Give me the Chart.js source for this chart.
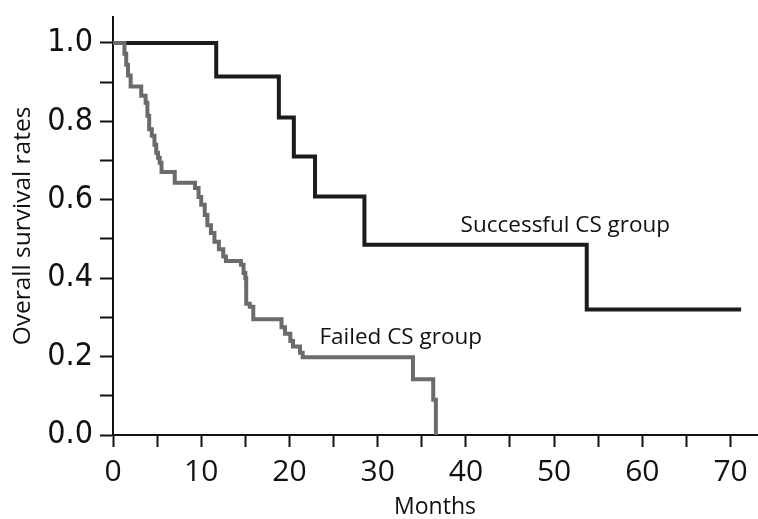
<!DOCTYPE html>
<html>
<head>
<meta charset="utf-8">
<script src="https://cdn.jsdelivr.net/npm/chart.js@4/dist/chart.umd.min.js"></script>
<style>
  html, body { margin: 0; padding: 0; background: #ffffff; }
  #wrap { width: 758px; height: 519px; position: relative; }
</style>
</head>
<body>
<div id="wrap"><canvas id="c" width="758" height="519"></canvas></div>
<script>
// ---- Data (Kaplan–Meier step curves) ----
const seriesNames = ['Successful CS group', 'Failed CS group'];

const successMonths = [0, 11.7, 18.8, 20.5, 22.9, 28.5, 53.7, 71.2];
const successRates  = [1.0, 0.914, 0.81, 0.71, 0.608, 0.485, 0.32, 0.32];

const failedMonths = [0, 1.3, 1.5, 1.7, 2.0, 3.2, 3.7, 3.9, 4.1, 4.4,
                      4.7, 4.9, 5.1, 5.3, 5.5, 7.0, 9.3, 9.7, 10.0, 10.4,
                      10.7, 11.1, 11.5, 12.0, 12.5, 12.8, 14.5, 14.8, 15.0, 15.1,
                      15.5, 15.9, 19.1, 19.5, 20.1, 20.4, 21.2, 21.5, 34.0, 36.3,
                      36.6];
const failedRates  = [1.0, 0.972, 0.944, 0.917, 0.889, 0.865, 0.847, 0.814, 0.78, 0.763,
                      0.74, 0.72, 0.707, 0.694, 0.671, 0.643, 0.63, 0.607, 0.587, 0.561,
                      0.535, 0.515, 0.493, 0.474, 0.455, 0.444, 0.434, 0.413, 0.40, 0.335,
                      0.327, 0.295, 0.275, 0.258, 0.24, 0.226, 0.21, 0.198, 0.142, 0.09,
                      0.0];

const xTickValues = [0, 5, 10, 15, 20, 25, 30, 35, 40, 45, 50, 55, 60, 65, 70];
const xTickLabels = ['0', '', '10', '', '20', '', '30', '', '40', '', '50', '', '60', '', '70'];
const yTickValues = [0, 0.1, 0.2, 0.3, 0.4, 0.5, 0.6, 0.7, 0.8, 0.9, 1.0];
const yTickLabels = ['0.0', '', '0.2', '', '0.4', '', '0.6', '', '0.8', '', '1.0'];

const xTitle = 'Months';
const yTitle = 'Overall survival rates';

// ---- build library structures ----
function toPoints(xs, ys) { return xs.map((x, i) => ({ x: x, y: ys[i] })); }

const textLabelsPlugin = {
  id: 'textLabels',
  afterDatasetsDraw(chart, args, opts) {
    const { ctx, scales } = chart;
    ctx.save();
    ctx.fillStyle = opts.color;
    ctx.font = opts.font;
    ctx.textAlign = 'left';
    ctx.textBaseline = 'middle';
    (opts.items || []).forEach(it => {
      ctx.fillText(it.text, scales.x.getPixelForValue(it.x), scales.y.getPixelForValue(it.y));
    });
    ctx.restore();
  }
};

const xFont = { family: "'Open Sans', sans-serif", size: 30 };
const yFont = { family: "'DejaVu Sans Condensed', 'Liberation Sans', sans-serif", size: 32 };

new Chart(document.getElementById('c'), {
  type: 'line',
  data: {
    datasets: [
      {
        label: seriesNames[1],
        data: toPoints(failedMonths, failedRates),
        borderColor: '#6b6b6b',
        borderWidth: 4,
        stepped: 'before',
        pointRadius: 0,
        fill: false,
        order: 0
      },
      {
        label: seriesNames[0],
        data: toPoints(successMonths, successRates),
        borderColor: '#1c1c1c',
        borderWidth: 4,
        stepped: 'before',
        pointRadius: 0,
        fill: false,
        order: 1
      }
    ]
  },
  options: {
    responsive: false,
    animation: false,
    layout: { padding: { top: 17, right: 1, left: 0, bottom: 0 } },
    plugins: {
      legend: { display: false },
      tooltip: { enabled: false },
      textLabels: {
        color: '#111111',
        font: "22.5px 'Open Sans', sans-serif",
        items: [
          { text: seriesNames[0], x: 39.4, y: 0.535 },
          { text: seriesNames[1], x: 23.4, y: 0.248 }
        ]
      }
    },
    scales: {
      x: {
        type: 'linear',
        min: 0,
        max: 73,
        afterFit(scale) { scale.height = 84; scale.paddingLeft = 0; scale.paddingRight = 0; },
        afterBuildTicks(scale) { scale.ticks = xTickValues.map(v => ({ value: v })); },
        ticks: {
          color: '#111111',
          font: xFont,
          padding: 7,
          maxRotation: 0,
          autoSkip: false,
          callback: (v, i) => xTickLabels[i]
        },
        grid: {
          drawOnChartArea: false,
          drawTicks: true,
          tickLength: 12,
          tickColor: '#111111',
          tickWidth: 2
        },
        border: { display: true, color: '#111111', width: 2 },
        title: {
          display: true,
          text: xTitle,
          color: '#111111',
          font: { family: "'Open Sans', sans-serif", size: 23 },
          padding: { top: 0, bottom: -2 }
        }
      },
      y: {
        type: 'linear',
        min: 0,
        max: 1.066,
        afterFit(scale) { scale.width = 113; scale.paddingTop = 0; scale.paddingBottom = 0; },
        afterBuildTicks(scale) { scale.ticks = yTickValues.map(v => ({ value: v })); },
        ticks: {
          color: '#111111',
          font: yFont,
          padding: 7,
          autoSkip: false,
          callback: (v, i) => yTickLabels[i]
        },
        grid: {
          drawOnChartArea: false,
          drawTicks: true,
          tickLength: 13,
          tickColor: '#111111',
          tickWidth: 2
        },
        border: { display: true, color: '#111111', width: 2 },
        title: {
          display: true,
          text: yTitle,
          color: '#111111',
          font: { family: "'Open Sans', sans-serif", size: 24.5 },
          padding: { top: 8, bottom: 0 }
        }
      }
    }
  },
  plugins: [textLabelsPlugin]
});
</script>
</body>
</html>
